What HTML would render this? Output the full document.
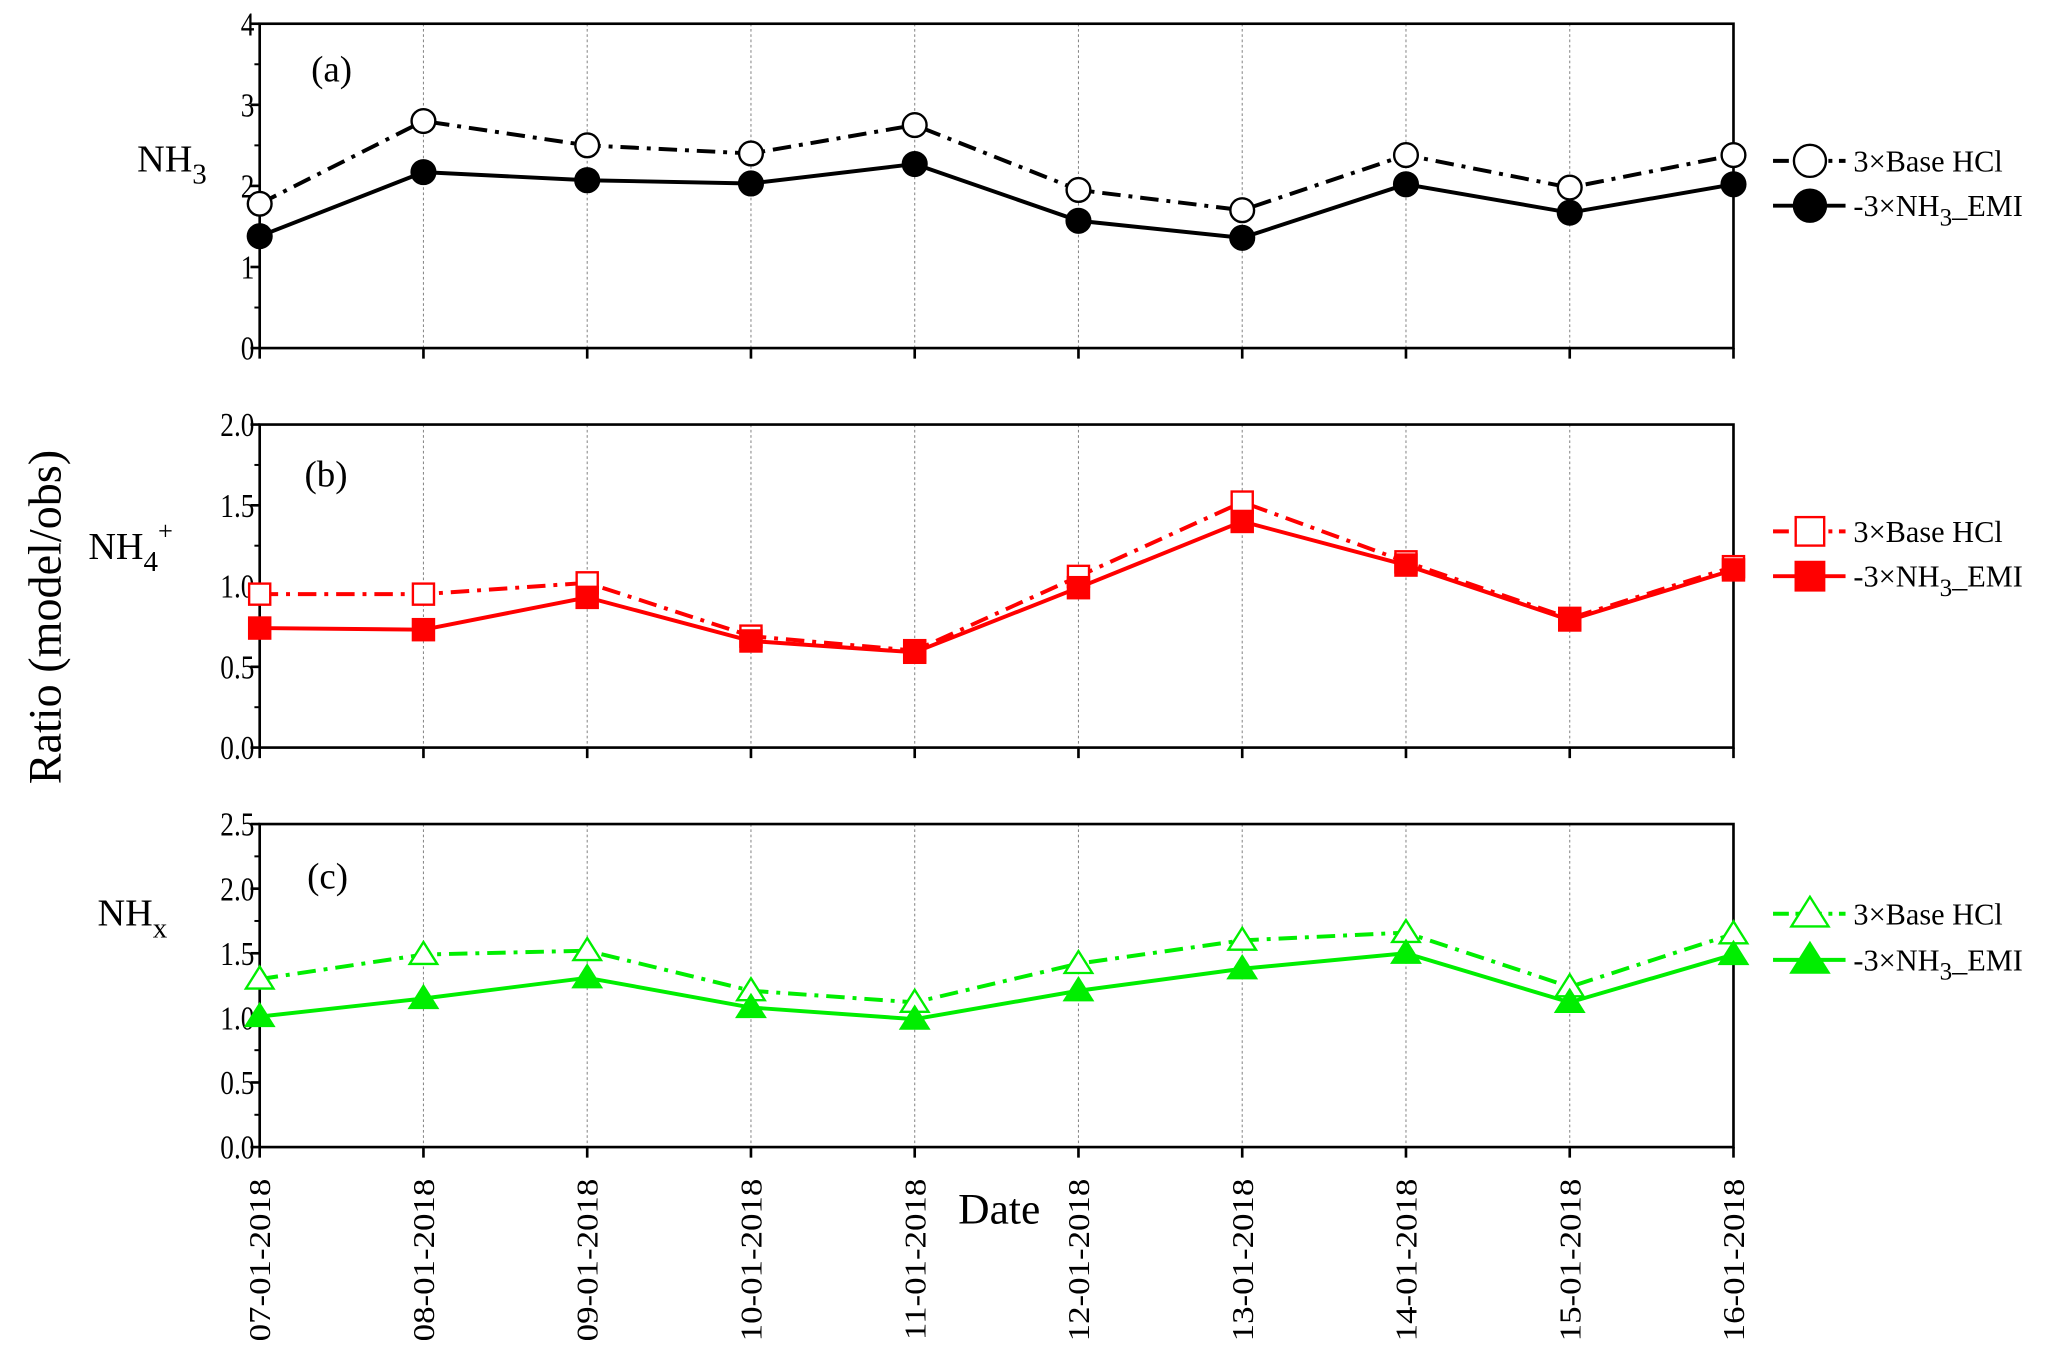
<!DOCTYPE html>
<html><head><meta charset="utf-8"><style>
html,body{margin:0;padding:0;background:#fff;}
svg{display:block;font-family:"Liberation Serif",serif;}
</style></head><body>
<svg id="chart" width="2067" height="1362" viewBox="0 0 1568 1033" preserveAspectRatio="none" xmlns="http://www.w3.org/2000/svg"></svg>
<script>
const dates=["07-01-2018","08-01-2018","09-01-2018","10-01-2018","11-01-2018","12-01-2018","13-01-2018","14-01-2018","15-01-2018","16-01-2018"];
const nh3Base=[1.78,2.8,2.5,2.4,2.75,1.95,1.7,2.38,1.98,2.38];
const nh3Emi=[1.38,2.17,2.07,2.03,2.27,1.57,1.36,2.02,1.67,2.02];
const nh4Base=[0.95,0.95,1.02,0.69,0.60,1.06,1.52,1.15,0.80,1.12];
const nh4Emi=[0.74,0.73,0.93,0.66,0.59,0.99,1.40,1.13,0.79,1.10];
const nhxBase=[1.30,1.49,1.52,1.21,1.12,1.42,1.60,1.66,1.24,1.65];
const nhxEmi=[1.01,1.15,1.31,1.08,0.99,1.21,1.38,1.50,1.12,1.49];
const ticksA=["0","1","2","3","4"];
const ticksB=["0.0","0.5","1.0","1.5","2.0"];
const ticksC=["0.0","0.5","1.0","1.5","2.0","2.5"];

const NS="http://www.w3.org/2000/svg";
const svg=document.getElementById('chart');
function mk(tag,attrs,parent){const e=document.createElementNS(NS,tag);for(const k in attrs)e.setAttribute(k,attrs[k]);(parent||svg).appendChild(e);return e;}
const X0=197,X1=1315;
function xs(i){return X0+(X1-X0)*i/(dates.length-1);}

function panel(cfg){
  const g=mk('g',{});
  
  
  const ys=v=>cfg.bot-(cfg.bot-cfg.top)*(v/cfg.max);
  for(let i=1;i<dates.length-1;i++){
    const l=mk('line',{x1:xs(i),x2:xs(i),y1:cfg.top,y2:cfg.bot,stroke:'#888','stroke-width':0.8,'stroke-dasharray':'2,2'},g);
    
    
  }
  const fr=mk('rect',{x:X0,y:cfg.top,width:X1-X0,height:cfg.bot-cfg.top,fill:'none',stroke:'#000','stroke-width':2},g);
  
  
  cfg.ticks.forEach((t,k)=>{
    const v=parseFloat(t), y=ys(v);
    mk('line',{x1:X0-7,x2:X0,y1:y,y2:y,stroke:'#000','stroke-width':2},g);
    const tx=mk('text',{x:X0-4,y:y+8,'text-anchor':'end','font-size':23,transform:`translate(${X0-4},${y}) scale(0.9,1.1) translate(${-(X0-4)},${-y})`},g);
    tx.textContent=t;
    
    
    if(k<cfg.ticks.length-1){const ym=ys(v+cfg.step/2);mk('line',{x1:X0-4,x2:X0,y1:ym,y2:ym,stroke:'#000','stroke-width':1.5},g);}
  });
  for(let i=0;i<dates.length;i++) mk('line',{x1:xs(i),x2:xs(i),y1:cfg.bot,y2:cfg.bot+8,stroke:'#000','stroke-width':2},g);
  const series=[[cfg.base,true],[cfg.emi,false]];
  series.forEach(([vals,open])=>{
    const pts=vals.map((v,i)=>xs(i)+','+ys(v)).join(' ');
    const pl=mk('polyline',{points:pts,fill:'none',stroke:cfg.color,'stroke-width':3,'stroke-dasharray':open?'14,6,3,6':'none'},g);
    
    
    vals.forEach((v,i)=>{
      const m=marker(g,cfg.shape,xs(i),ys(v),open,cfg.color);
      
      
    });
  });
  const pl=mk('text',{x:cfg.plx,y:cfg.ply,'font-size':28},g);
  pl.textContent=cfg.plabel;
  
  
  const sl=mk('text',{x:cfg.slx,y:cfg.sly,'font-size':29},g);
  sl.innerHTML=cfg.species;
  
  
  [[cfg.ly1,true,'3×Base HCl'],[cfg.ly2,false,'-3×NH<tspan dy="7" font-size="19">3</tspan><tspan dy="-7">_EMI</tspan>']].forEach(([y,open,txt])=>{
    const lg=mk('g',{},g);
    
    
    mk('line',{x1:1345,x2:1400,y1:y,y2:y,stroke:cfg.color,'stroke-width':3,'stroke-dasharray':open?'12,5,3,5':'none'},lg);
    marker(lg,cfg.shape,1373,y,open,cfg.color,1.35);
    const t=mk('text',{x:1406,y:y+8,'font-size':23},lg);
    t.innerHTML=txt;
  });
}
function marker(g,shape,x,y,open,color,s){
  s=s||1;
  const fill=open?'#fff':color, sw=1.8;
  if(shape==='circle') return mk('circle',{cx:x,cy:y,r:9*s,fill:fill,stroke:color,'stroke-width':sw},g);
  if(shape==='square'){const h=8*s;return mk('rect',{x:x-h,y:y-h,width:2*h,height:2*h,fill:fill,stroke:color,'stroke-width':sw},g);}
  const h=9.5*s;return mk('polygon',{points:`${x},${y-h} ${x-h*1.1},${y+h*0.75} ${x+h*1.1},${y+h*0.75}`,fill:fill,stroke:color,'stroke-width':sw},g);
}
panel({name:'panel-a-nh3',top:18,bot:264,max:4,step:1,ticks:ticksA,base:nh3Base,emi:nh3Emi,color:'#000',shape:'circle',plabel:'(a)',plx:236,ply:62,species:'NH<tspan dy="9" font-size="22">3</tspan>',slx:104,sly:130,ly1:122,ly2:156});
panel({name:'panel-b-nh4',top:322,bot:567,max:2,step:0.5,ticks:ticksB,base:nh4Base,emi:nh4Emi,color:'#ff0000',shape:'square',plabel:'(b)',plx:231,ply:369,species:'NH<tspan dy="9" font-size="22">4</tspan><tspan dy="-24" font-size="20">+</tspan>',slx:67,sly:424,ly1:403,ly2:437});
panel({name:'panel-c-nhx',top:625,bot:870,max:2.5,step:0.5,ticks:ticksC,base:nhxBase,emi:nhxEmi,color:'#00ee00',shape:'triangle',plabel:'(c)',plx:233,ply:674,species:'NH<tspan dy="9" font-size="22">x</tspan>',slx:74,sly:702,ly1:693,ly2:728});
dates.forEach((d,i)=>{
  const t=mk('text',{x:0,y:0,'font-size':23,'text-anchor':'end',transform:`translate(${xs(i)+8},${894}) rotate(-90) scale(1.15,1)`});
  t.textContent=d;
  
  
});
const dt=mk('text',{x:758,y:928,'font-size':33,'text-anchor':'middle'});
dt.textContent='Date';


const yt=mk('text',{x:0,y:0,'font-size':35,'text-anchor':'middle',transform:'translate(46,468) rotate(-90)'});
yt.textContent='Ratio (model/obs)';


</script>
</body></html>
